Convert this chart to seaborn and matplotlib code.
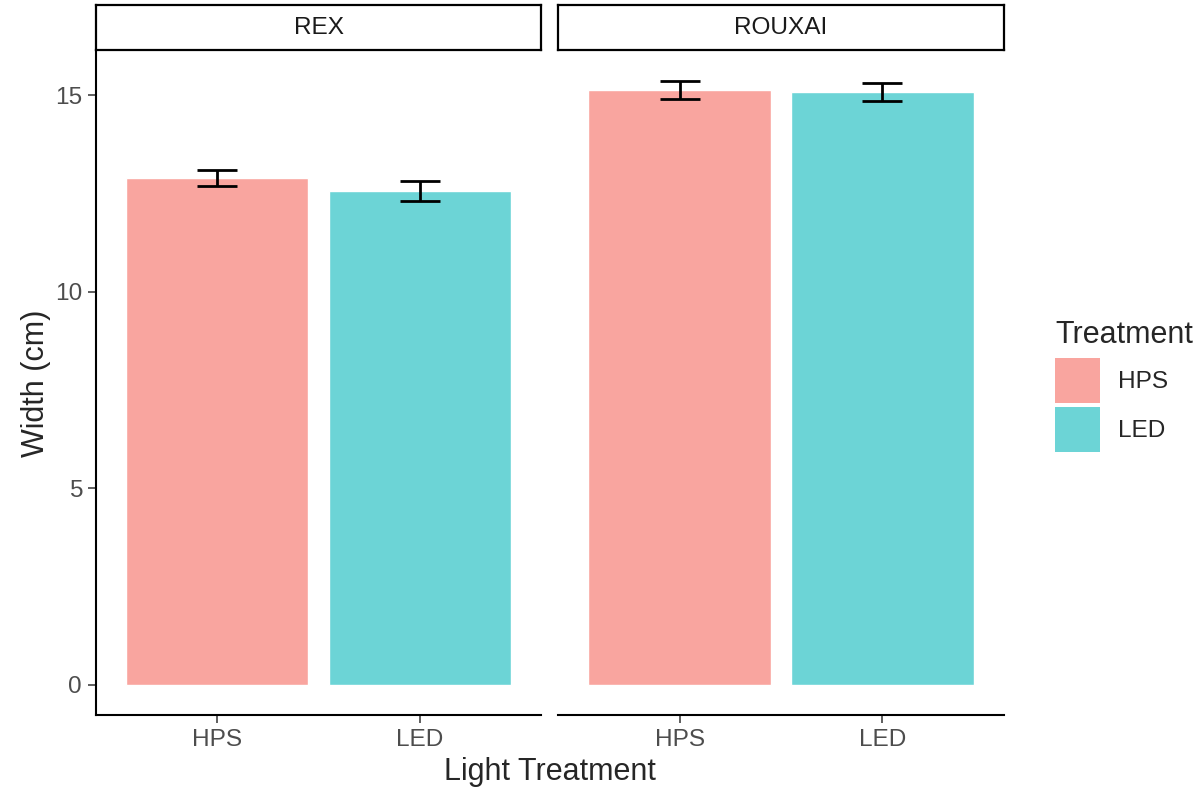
import matplotlib as mpl
import matplotlib.pyplot as plt
import seaborn as sns
import pandas as pd
from matplotlib.patches import Patch

# data
cultivars = ["REX", "ROUXAI"]
treatments = ["HPS", "LED"]
rex_width = [12.89, 12.57]
rex_se = [0.21, 0.25]
rouxai_width = [15.13, 15.08]
rouxai_se = [0.23, 0.23]

palette = {"HPS": "#F9A59F", "LED": "#6CD4D6"}

BASE = 22
SMALL = 17.6

sns.set_theme(style="white")
mpl.rcParams.update({
    "font.family": ["Liberation Sans", "DejaVu Sans"],
    "axes.edgecolor": "black",
    "axes.linewidth": 1.5,
    "xtick.color": "#333333",
    "ytick.color": "#333333",
    "xtick.labelcolor": "#4D4D4D",
    "ytick.labelcolor": "#4D4D4D",
})

df = pd.DataFrame({
    "Cultivar": [c for c in cultivars for _ in treatments],
    "Treatment": treatments * len(cultivars),
    "Width": rex_width + rouxai_width,
    "SE": rex_se + rouxai_se,
})

W, H = 1203, 791
fig = plt.figure(figsize=(W / 100, H / 100), dpi=100)

panel_x = [(96, 541), (558, 1004)]
panel_y = (50, 715)
strip_y = (5, 50)

for i, cult in enumerate(cultivars):
    x0, x1 = panel_x[i]
    ax = fig.add_axes([x0 / W, 1 - panel_y[1] / H, (x1 - x0) / W, (panel_y[1] - panel_y[0]) / H])
    sub = df[df["Cultivar"] == cult]
    sns.barplot(data=sub, x="Treatment", y="Width", hue="Treatment", order=treatments,
                hue_order=treatments, palette=palette, dodge=False, width=0.9,
                errorbar=None, legend=False, ax=ax, saturation=1)
    for bar, t in zip(ax.patches, treatments):
        row = sub[sub["Treatment"] == t].iloc[0]
        xc = bar.get_x() + bar.get_width() / 2
        ax.errorbar(xc, row["Width"], yerr=row["SE"], fmt="none", ecolor="black",
                    elinewidth=2.0, capsize=14.4, capthick=2.0, zorder=5)
    ax.set_xlim(-0.6, 1.6)
    ax.set_ylim(-0.77, 16.15)
    ax.set_yticks([0, 5, 10, 15])
    ax.set_xlabel("")
    ax.set_ylabel("")
    for s in ["top", "right"]:
        ax.spines[s].set_visible(False)
    ax.tick_params(axis="both", length=6, width=1.1, labelsize=SMALL, pad=4,
                   bottom=True, left=(i == 0))
    if i > 0:
        ax.spines["left"].set_visible(False)
        ax.set_yticklabels([])
        ax.tick_params(axis="y", left=False)

    # facet strip
    sax = fig.add_axes([x0 / W, 1 - strip_y[1] / H, (x1 - x0) / W, (strip_y[1] - strip_y[0]) / H])
    sax.set_xticks([])
    sax.set_yticks([])
    for s in sax.spines.values():
        s.set_linewidth(1.6)
    sax.text(0.5, 0.5, cult, ha="center", va="center", fontsize=SMALL, color="#1A1A1A",
             transform=sax.transAxes)

fig.text(((96 + 1004) / 2) / W, 1 - 772 / H, "Light Treatment", ha="center", va="center",
         fontsize=BASE)
fig.text(36 / W, 1 - 383 / H, "Width (cm)", ha="center", va="center", rotation=90,
         fontsize=BASE)

handles = [Patch(facecolor=palette[t], edgecolor="none", label=t) for t in treatments]
leg = fig.legend(handles=handles, title="Treatment", loc="upper left",
                 bbox_to_anchor=(1050 / W, 1 - 315 / H), frameon=False,
                 fontsize=SMALL, title_fontsize=BASE, handlelength=1.84, handleheight=2.45,
                 labelspacing=0.16, handletextpad=0.75, borderaxespad=0, borderpad=0.2)
leg._legend_box.align = "left"
leg._legend_box.sep = 6

fig.savefig("out.png", dpi=100)
